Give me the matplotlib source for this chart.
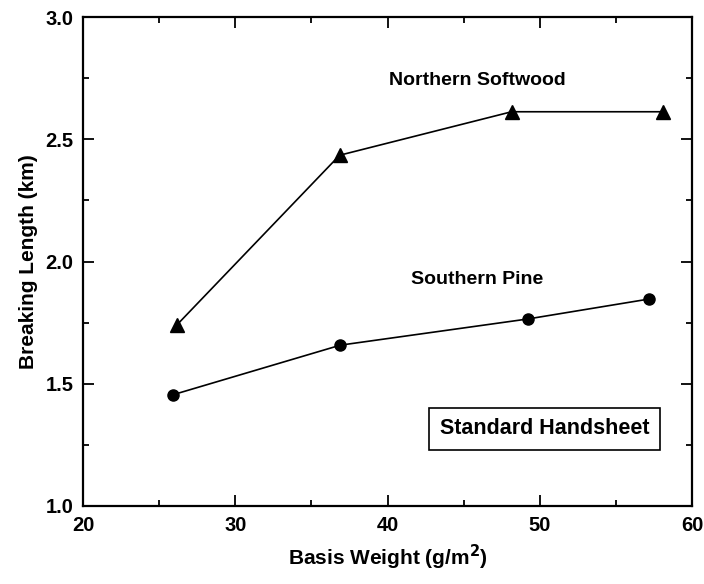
import matplotlib
matplotlib.use("Agg")
import matplotlib.pyplot as plt
from matplotlib.ticker import MultipleLocator, FormatStrFormatter

plt.rcParams['font.family'] = ['Liberation Sans', 'DejaVu Sans']
plt.rcParams['font.weight'] = 'bold'

# data
north_x = [26.15, 36.85, 48.15, 58.1]
north_y = [1.74, 2.435, 2.613, 2.613]
south_x = [25.9, 36.9, 49.2, 57.2]
south_y = [1.455, 1.658, 1.765, 1.847]

fig = plt.figure(figsize=(7.04, 5.84), dpi=100)
ax = fig.add_axes([0.118, 0.1336, 0.865, 0.837])

ax.plot(north_x, north_y, color='black', lw=1.2, marker='^', ms=10)
ax.plot(south_x, south_y, color='black', lw=1.2, marker='o', ms=8)

ax.set_xlim(20, 60)
ax.set_ylim(1.0, 3.0)
ax.xaxis.set_major_locator(MultipleLocator(10))
ax.xaxis.set_minor_locator(MultipleLocator(5))
ax.yaxis.set_major_locator(MultipleLocator(0.5))
ax.yaxis.set_minor_locator(MultipleLocator(0.25))
ax.yaxis.set_major_formatter(FormatStrFormatter('%.1f'))

ax.tick_params(which='both', direction='in', top=True, right=True, width=1.3)
ax.tick_params(which='major', length=8, labelsize=14.5, pad=7)
ax.tick_params(which='minor', length=4)
for s in ax.spines.values():
    s.set_linewidth(1.6)

ax.set_xlabel('Basis Weight (g/m$^\\mathbf{2}$)', fontsize=15, fontweight='bold', labelpad=6)
ax.set_ylabel('Breaking Length (km)', fontsize=15, fontweight='bold', labelpad=5)

ax.text(45.9, 2.74, 'Northern Softwood', fontsize=14, fontweight='bold', ha='center', va='center')
ax.text(45.9, 1.925, 'Southern Pine', fontsize=14, fontweight='bold', ha='center', va='center')
ax.text(50.3, 1.315, 'Standard Handsheet', fontsize=15.5, fontweight='bold', ha='center', va='center',
        bbox=dict(boxstyle='square,pad=0.5', fc='white', ec='black', lw=1.2))

fig.savefig('out.png', dpi=100)
